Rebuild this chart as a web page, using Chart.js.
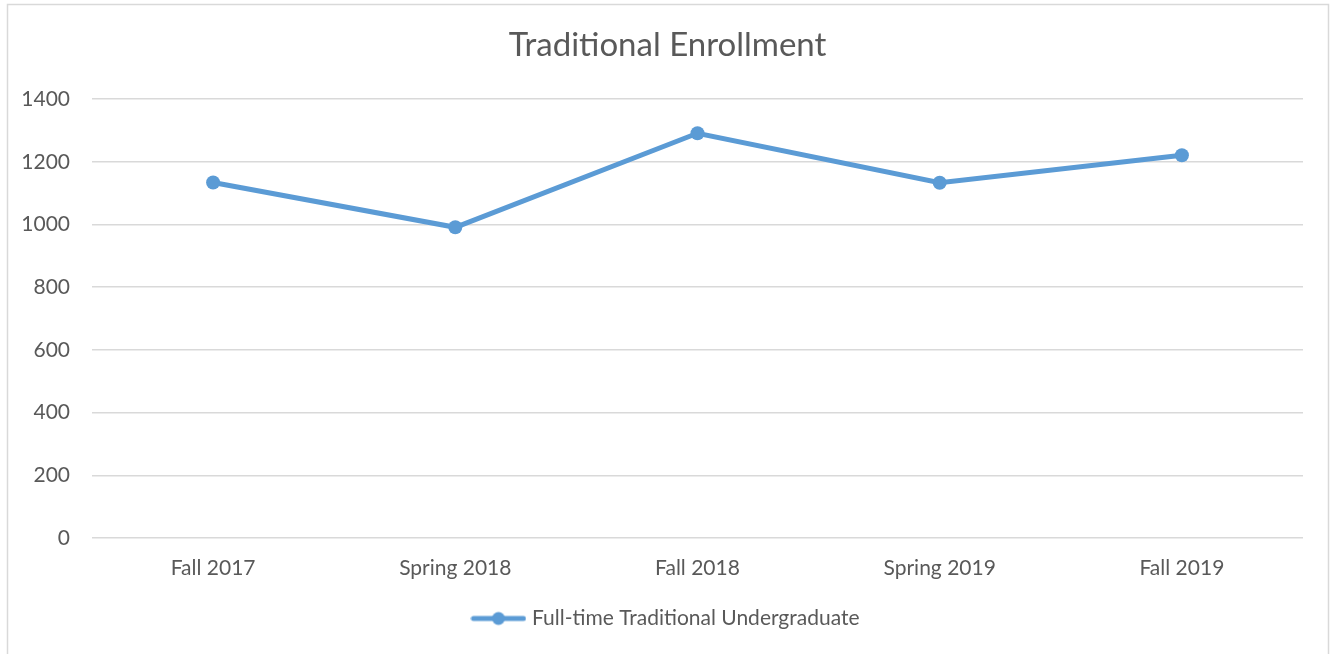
<!DOCTYPE html>
<html>
<head>
<meta charset="utf-8">
<script src="https://cdn.jsdelivr.net/npm/chart.js@4/dist/chart.umd.min.js"></script>
<style>
html,body{margin:0;padding:0;background:#fff;}
#wrap{position:relative;width:1330px;height:654px;}
</style>
</head>
<body>
<div id="wrap"><canvas id="c" width="1330" height="654"></canvas></div>
<script>
const categories = ["Fall 2017", "Spring 2018", "Fall 2018", "Spring 2019", "Fall 2019"];
const enrollment = [1134, 991, 1291, 1133, 1221];
const seriesName = "Full-time Traditional Undergraduate";
const chartTitle = "Traditional Enrollment";
const yTicks = [0, 200, 400, 600, 800, 1000, 1200, 1400];

const BLUE = "#5b9bd5";
const TEXT = "#595959";
const GRID = "#d9d9d9";
const FONT = "Lato, 'Open Sans', sans-serif";

// legend marker: line with a circle
const marker = document.createElement("canvas");
marker.width = 56; marker.height = 16;
(function(){
  const g = marker.getContext("2d");
  g.strokeStyle = BLUE; g.lineWidth = 5; g.lineCap = "round";
  g.beginPath(); g.moveTo(3, 8); g.lineTo(53, 8); g.stroke();
  g.fillStyle = BLUE; g.beginPath(); g.arc(28, 8, 6.5, 0, Math.PI*2); g.fill();
})();

const framePlugin = {
  id: "frame",
  afterLayout(chart) {
    // widen the y-axis label clip area so that the tick labels are not cut
    const y = chart.scales.y;
    y.left = 0;
    y.width = y.right;
  },
  beforeDraw(chart) {
    const ctx = chart.ctx;
    ctx.save();
    ctx.fillStyle = "#fff";
    ctx.fillRect(0, 0, chart.width, chart.height);
    ctx.strokeStyle = GRID;
    ctx.lineWidth = 1.5;
    ctx.strokeRect(7.5, 4.5, 1321, 700);
    ctx.restore();
  }
};

new Chart(document.getElementById("c"), {
  type: "line",
  data: {
    labels: categories,
    datasets: [{
      label: seriesName,
      data: enrollment,
      borderColor: BLUE,
      backgroundColor: BLUE,
      borderWidth: 5,
      pointRadius: 7,
      pointBackgroundColor: BLUE,
      pointBorderWidth: 0,
      pointStyle: "circle",
      tension: 0,
      fill: false
    }]
  },
  options: {
    responsive: false,
    animation: false,
    layout: { padding: { left: 32, right: 27, top: 0, bottom: 15 } },
    plugins: {
      title: {
        display: true,
        text: chartTitle,
        color: TEXT,
        font: { family: FONT, size: 33, weight: "normal" },
        padding: { top: 25.5, bottom: 34 }
      },
      legend: {
        display: true,
        position: "bottom",
        labels: {
          color: TEXT,
          font: { family: FONT, size: 21 },
          usePointStyle: true,
          pointStyleWidth: 46,
          padding: 25,
          generateLabels(chart) {
            return chart.data.datasets.map((ds, i) => ({
              text: ds.label,
              fillStyle: BLUE,
              strokeStyle: BLUE,
              lineWidth: 0,
              pointStyle: marker,
              datasetIndex: i,
              hidden: false,
              fontColor: TEXT
            }));
          }
        }
      },
      tooltip: { enabled: false }
    },
    scales: {
      x: {
        offset: true,
        grid: { display: false, drawTicks: false },
        border: { display: false },
        ticks: { color: TEXT, font: { family: FONT, size: 21 }, padding: 18, maxRotation: 0 },
        afterFit(scale) { scale.height = 45; }
      },
      y: {
        min: 0,
        max: 1400,
        afterBuildTicks(scale) { scale.ticks = yTicks.map(v => ({ value: v })); },
        grid: { color: GRID, lineWidth: 1.5, drawTicks: false },
        border: { display: false },
        ticks: {
          color: TEXT, font: { family: FONT, size: 21 }, padding: 22,
          callback(v) { return String(v); }
        },
        afterFit(scale) { scale.width = 60; }
      }
    }
  },
  plugins: [framePlugin]
});
</script>
</body>
</html>
